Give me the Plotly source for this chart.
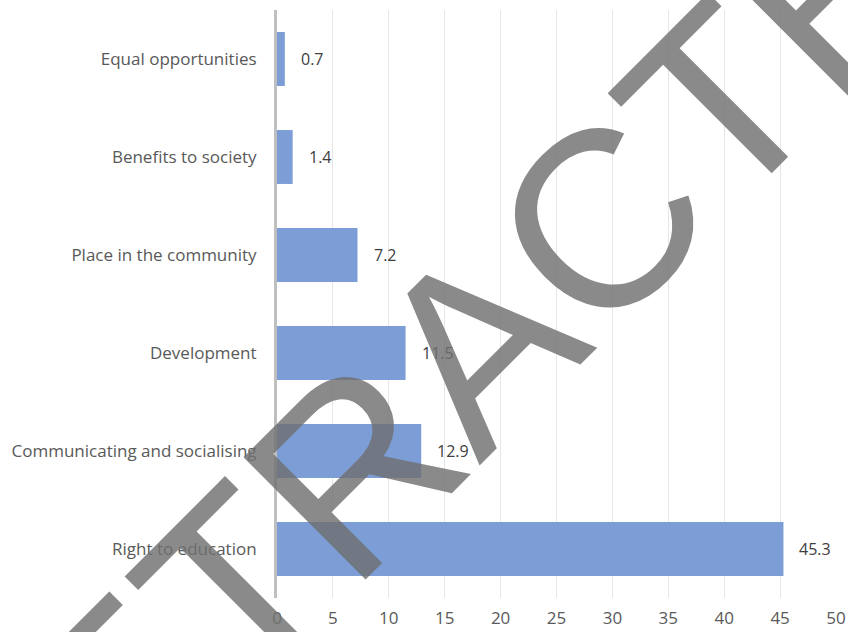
import plotly.graph_objects as go

# Reasons cited, percentage of responses
categories = [
    "Right to education",
    "Communicating and socialising",
    "Development",
    "Place in the community",
    "Benefits to society",
    "Equal opportunities",
]
values = [45.3, 12.9, 11.5, 7.2, 1.4, 0.7]
x_ticks = [0, 5, 10, 15, 20, 25, 30, 35, 40, 45, 50]

label_font = dict(family="Open Sans, Calibri, sans-serif", size=17, color="#595959")

fig = go.Figure()
fig.add_trace(
    go.Bar(
        y=categories,
        x=values,
        orientation="h",
        marker=dict(color="rgb(124,157,213)", line=dict(width=0)),
        hoverinfo="x+y",
    )
)

# value labels to the right of each bar
for cat, val in zip(categories, values):
    fig.add_annotation(
        x=val, y=cat, xref="x", yref="y",
        text=f"{val}", showarrow=False,
        xanchor="left", xshift=14,
        font=dict(family="Open Sans, Calibri, sans-serif", size=16, color="#404040"),
    )

# diagonal stamp across the figure
fig.add_annotation(
    x=0.358, y=0.43, xref="paper", yref="paper",
    text="RETRACTED", showarrow=False, textangle=-45,
    xanchor="center", yanchor="middle",
    font=dict(family="Liberation Sans, Arial, sans-serif", size=251,
              color="rgba(112,112,112,0.82)"),
)

fig.update_layout(
    width=848, height=632,
    margin=dict(l=277, r=12, t=10, b=34),
    paper_bgcolor="white", plot_bgcolor="white",
    bargap=0.45,
    showlegend=False,
    xaxis=dict(
        range=[0, 50], tickvals=x_ticks, ticktext=[str(t) for t in x_ticks],
        showgrid=True, gridcolor="#e6e6e6", gridwidth=1,
        zeroline=False, showline=False, ticks="",
        ticklabelstandoff=8,
        tickfont=label_font, automargin=False,
    ),
    yaxis=dict(
        showgrid=False, zeroline=False,
        showline=True, linecolor="#bfbfbf", linewidth=3,
        ticks="", ticklabelstandoff=14,
        tickfont=label_font, automargin=False,
    ),
)

fig.write_html("out.html")
